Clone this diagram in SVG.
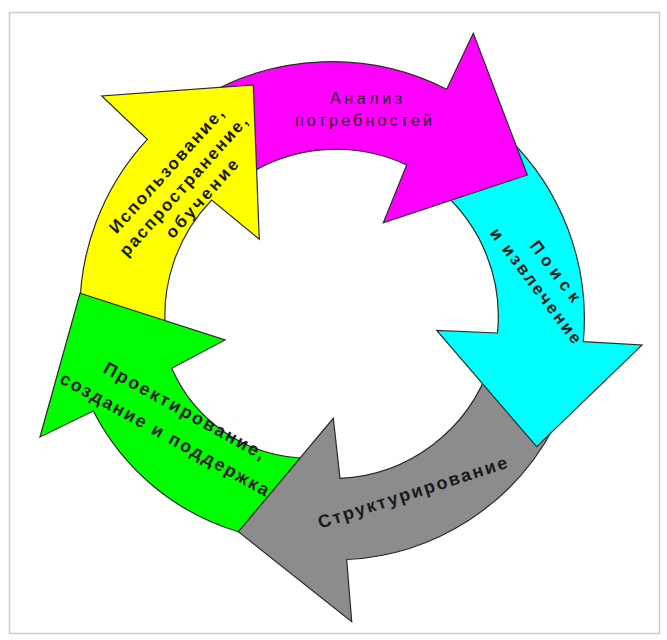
<svg xmlns="http://www.w3.org/2000/svg" width="667" height="640" viewBox="0 0 667 640">
<style>
.arrow{stroke:#2a2a2a;stroke-width:1.2;stroke-linejoin:miter}
.lbl{font-family:"Liberation Sans",Arial,sans-serif;font-weight:bold;fill:#1a1a1a;text-anchor:middle}
.lbl2{font-family:"Liberation Sans",Arial,sans-serif;font-weight:normal;fill:#1a1a1a;text-anchor:middle}
</style>
<rect x="9.5" y="12.5" width="650" height="621" fill="#ffffff" stroke="#cccccc" stroke-width="1.5"/>

<g id="structuring">
<path class="arrow" fill="#8c8c8c" d="M555,425 A248,248 0 0 1 346.7,559.5 L351.7,621.7 L238.3,531.7 L333.3,418.3 L340,478.3 A166,166 0 0 0 490,365 Z"/>
<text class="lbl" font-size="18" transform="translate(412.5,492.5) rotate(-18)" x="0" y="6" textLength="198" lengthAdjust="spacing">Структурирование</text>
</g>

<g id="search">
<path class="arrow" fill="#00ffff" d="M505,135 A252,252 0 0 1 583.3,341.7 L642,345 L536.7,446.7 L436.7,330.5 L497.5,333 A166,166 0 0 0 440,190 Z"/>
<g transform="translate(545.8,278.4) rotate(53)">
<text class="lbl" font-size="17" x="0" y="-6" textLength="72" lengthAdjust="spacing">Поиск</text>
<text class="lbl" font-size="17" x="0" y="18" textLength="140" lengthAdjust="spacing">и извлечение</text>
</g>
</g>

<g id="analysis">
<path class="arrow" fill="#ff00ff" d="M200,98.6 A253,253 0 0 1 446.7,89.3 L473.3,33.3 L527.3,175 L383.3,222.7 L406.7,165 A166,166 0 0 0 240,180 Z"/>
<text class="lbl2" font-size="16" x="366" y="104" textLength="72" lengthAdjust="spacing">Анализ</text>
<text class="lbl2" font-size="16" x="363.5" y="126" textLength="137" lengthAdjust="spacing">потребностей</text>
</g>

<g id="usage">
<path class="arrow" fill="#ffff00" d="M80,320 A253,253 0 0 1 147.3,139.3 L101.7,96 L253.3,85 L259.3,239.3 L211.7,200 A166,166 0 0 0 166,335 Z"/>
<g transform="translate(183.3,185.8) rotate(-48)">
<text class="lbl" font-size="17" x="0" y="-17" textLength="162" lengthAdjust="spacing">Использование,</text>
<text class="lbl" font-size="17" x="0" y="6" textLength="182" lengthAdjust="spacing">распространение,</text>
<text class="lbl" font-size="17" x="3" y="28" textLength="100" lengthAdjust="spacing">обучение</text>
</g>
</g>

<g id="design">
<path class="arrow" fill="#00ff00" d="M238.3,531.7 A240,240 0 0 1 93.3,411 L40,437 L80,293.3 L225,340 L171.7,368.3 A150,150 0 0 0 300,458 Z"/>
<g transform="translate(174.6,422.5) rotate(29)">
<text class="lbl" font-size="18" x="3" y="-9" textLength="182" lengthAdjust="spacing">Проектирование,</text>
<text class="lbl" font-size="18" x="-3" y="21" textLength="236" lengthAdjust="spacing">создание и поддержка</text>
</g>
</g>
</svg>
